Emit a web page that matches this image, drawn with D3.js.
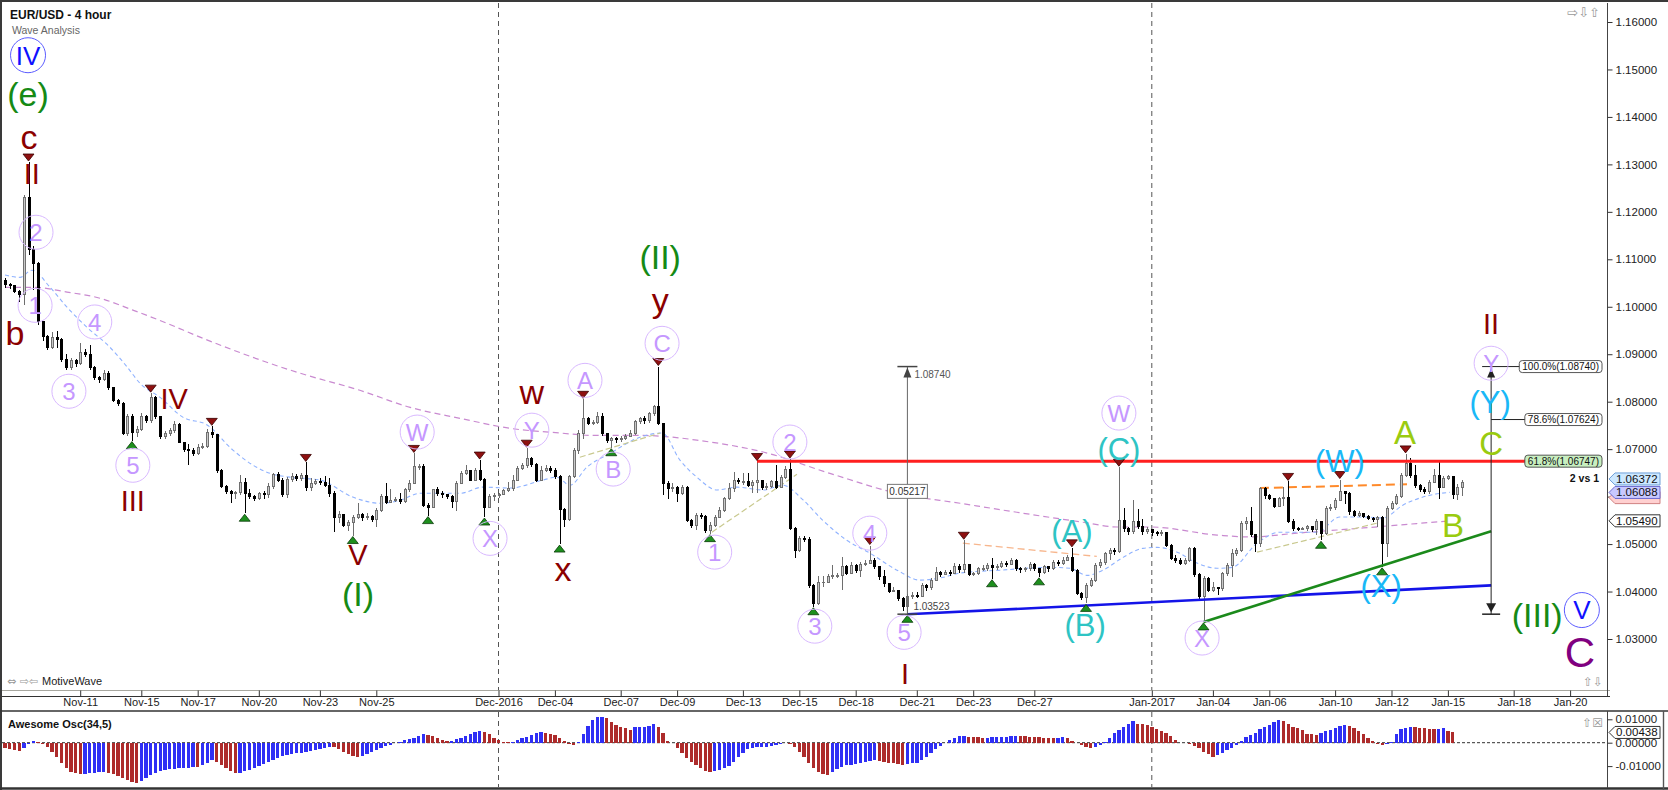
<!DOCTYPE html>
<html><head><meta charset="utf-8">
<script src="https://cdn.jsdelivr.net/npm/d3@7"></script>
<style>html,body{margin:0;padding:0;background:#fff;overflow:hidden}svg{display:block;font-family:"Liberation Sans",Arial,sans-serif}</style>
</head><body>
<svg id="chart" width="1668" height="790"></svg>
<script>
// ---------------- DATA (prices in pips above 1.0000) ----------------
const firstOpen = 1056;
const closes = [
1046,1044,1032,1025,1231,1120,1092,968,938,915,
936,930,888,873,886,880,904,900,873,850,
846,860,829,803,797,734,768,735,742,768,
760,808,768,726,732,740,752,715,700,698,
690,703,706,736,730,655,622,610,606,608,
630,606,600,596,606,604,622,646,634,604,
636,642,638,645,620,628,632,630,624,607,
557,562,540,545,556,562,555,558,552,571,
600,588,592,594,590,614,628,663,664,582,
578,614,606,604,600,590,628,649,656,635,
656,636,578,600,603,604,612,618,635,660,
665,681,667,635,656,660,654,642,572,552,
642,698,733,765,754,756,768,733,719,722,
720,722,727,733,758,765,760,775,789,754,
628,617,620,607,620,550,540,561,558,529,
540,557,571,596,617,634,632,632,624,630,
634,620,622,632,620,641,657,533,487,512,
510,413,375,420,420,431,434,434,452,438,
455,445,456,460,466,452,432,417,400,403,
386,369,389,392,390,413,408,424,441,436,
441,438,452,446,458,435,438,448,448,455,
450,452,460,458,466,448,446,448,457,448,
440,452,448,462,460,466,472,445,396,388,
413,424,455,462,480,487,484,550,533,527,
548,538,526,530,524,522,524,498,470,466,
460,465,490,435,389,428,403,408,406,438,
455,480,487,543,548,520,501,617,602,596,
580,596,598,548,533,532,533,536,530,547,
522,575,578,592,610,606,568,561,565,558,
554,552,556,501,575,585,600,645,670,645,
624,616,610,630,645,620,638,642,604,620,
630];
const highs = [
1060,1050,1046,1035,1236,1305,1128,1095,968,940,
946,949,935,900,892,890,924,910,920,876,
855,866,864,832,806,800,775,774,748,776,
772,818,812,770,738,745,760,756,716,710,
702,710,712,742,748,730,658,624,614,612,
645,640,615,604,610,612,628,650,652,640,
642,650,648,650,672,640,638,640,644,640,
612,570,562,550,562,586,566,565,562,576,
606,628,617,600,607,618,634,691,668,668,
586,616,620,612,606,604,632,654,666,656,
660,677,640,605,608,608,616,630,645,665,
670,702,684,670,664,666,664,660,646,575,
646,702,740,805,768,762,778,776,735,726,
726,728,732,740,762,768,770,778,792,874,
756,632,628,622,625,622,553,566,566,562,
546,562,578,600,628,652,640,649,650,636,
674,636,628,636,666,646,664,679,535,518,
516,515,416,432,432,436,456,440,473,456,
462,458,462,466,497,470,452,446,418,410,
404,388,394,400,398,418,416,428,452,444,
446,446,460,458,508,458,442,452,455,460,
470,458,464,464,470,468,452,452,462,460,
450,456,454,466,466,472,478,492,448,400,
418,428,460,468,484,492,492,662,575,536,
592,574,552,536,530,528,530,526,500,476,
470,470,494,494,440,432,430,420,410,442,
460,490,492,548,556,578,522,620,620,606,
598,600,620,632,552,536,537,540,538,552,
548,580,584,598,636,612,610,572,570,566,
562,558,560,560,580,590,606,650,690,682,
666,626,620,636,659,673,644,646,644,626,
636];
const lows = [
1040,1038,1028,1010,1003,1109,1035,962,928,908,
912,913,884,866,866,874,878,895,866,845,
840,844,825,800,790,730,728,718,725,738,
755,755,764,722,722,728,735,712,694,667,
685,688,700,702,724,650,618,606,586,596,
604,565,595,590,592,596,598,616,630,600,
598,630,632,632,612,612,624,624,620,600,
525,545,535,527,518,552,548,550,546,537,
568,584,586,588,585,586,610,626,656,578,
560,575,602,598,596,575,570,626,645,632,
633,632,557,575,590,598,604,610,612,632,
656,660,662,630,632,652,650,638,500,536,
548,640,690,722,750,750,752,728,714,703,
714,716,720,726,730,752,754,756,770,750,
603,596,610,589,604,546,533,529,552,524,
522,536,554,568,592,610,626,625,620,607,
608,614,614,618,615,618,638,530,470,484,
504,408,368,372,410,420,426,428,403,434,
436,440,430,454,458,448,424,410,396,398,
380,360,352,384,386,388,402,404,422,430,
434,432,436,440,440,432,432,434,444,444,
427,446,450,452,456,444,440,442,444,444,
431,438,442,446,454,456,464,442,392,382,
375,410,420,450,456,466,478,482,526,520,
522,532,520,522,518,518,518,494,466,460,
455,456,462,430,384,336,398,398,392,402,
432,430,474,484,530,514,484,494,594,592,
576,578,580,544,528,528,529,528,526,520,
508,520,570,572,590,584,562,556,558,554,
550,546,536,452,473,572,582,598,642,640,
618,610,606,606,628,596,618,636,596,592,
602];
// Awesome Oscillator (34,5), units of 0.0001
const aoValues = [
-24,-27,-30,-34,-22,-4,6,2,-6,-20,
-38,-62,-88,-110,-124,-130,-134,-132,-130,-128,
-126,-124,-128,-134,-142,-150,-158,-166,-174,-165,
-152,-140,-128,-122,-118,-114,-112,-110,-108,-106,
-103,-105,-96,-86,-76,-81,-95,-110,-122,-131,
-128,-122,-116,-108,-100,-92,-84,-74,-66,-56,
-53,-50,-46,-42,-38,-34,-30,-26,-22,-18,
-20,-28,-40,-50,-58,-63,-56,-48,-40,-32,
-24,-16,-8,-2,4,10,16,22,30,37,
34,28,20,12,6,9,14,20,28,36,
44,51,46,36,22,10,4,2,3,10,
18,26,34,40,44,42,38,32,22,8,
-4,-10,4,37,71,97,108,111,104,90,
75,68,61,54,65,66,67,71,80,65,
40,8,-3,-24,-46,-67,-81,-96,-110,-120,
-124,-122,-117,-110,-100,-81,-60,-43,-28,-23,
-20,-19,-17,-14,-9,-6,-3,-6,-20,-38,
-60,-88,-110,-124,-134,-138,-124,-114,-103,-97,
-94,-91,-88,-84,-80,-74,-77,-81,-86,-88,
-91,-94,-91,-88,-86,-74,-60,-43,-28,-14,
-3,11,21,27,28,26,25,23,18,21,
23,24,25,26,27,30,28,27,26,25,
23,21,20,18,21,23,18,8,-3,-10,
-20,-24,-20,-10,4,18,40,54,65,80,
92,82,78,74,65,60,50,40,28,11,
0,-3,-7,-14,-24,-38,-50,-63,-53,-43,
-31,-23,-9,8,26,33,43,57,68,75,
90,97,94,80,68,62,54,37,36,35,
43,48,54,62,71,74,71,61,50,36,
21,7,-6,-11,-6,4,36,58,62,68,
65,64,61,58,57,60,62,50,44];
// moving averages sampled [bar, pips]
const blueMA = [[0,1067],[3.2,1062],[5.7,1077],[9.6,1041],[13.2,999],[17.4,957],[22.3,915],[26,873],[28.7,839],[33,809],[37.9,767],[43,751],[48.5,698],[52.8,666],[56.4,649],[60.6,641],[67,635],[74,599],[79.8,586],[84,592],[88.3,607],[96.8,607],[101.7,620],[107.4,618],[114.5,635],[117.4,641],[120.2,624],[123.8,662],[128.7,691],[135.1,725],[139.8,734],[143.6,677],[147.2,641],[151.5,614],[155.7,620],[161.3,614],[165.5,624],[169.8,593],[174,550],[179.1,508],[184,481],[189.8,445],[194.7,424],[199.6,430],[203.2,439],[211.7,445],[222.3,451],[226.6,449],[230.2,434],[233.6,445],[237.9,472],[242.1,491],[245.1,493],[249.4,483],[253.6,460],[257.9,449],[261.1,451],[266.4,502],[271.3,525],[279.1,525],[284,557],[288.9,557],[293.2,555],[297.4,582],[303.2,603],[307.4,609]];
const pinkMA = [[0,1041],[6,1041],[13.2,1031],[20.2,1018],[27.2,993],[34.5,965],[41.5,936],[48.5,909],[55.7,883],[62.8,860],[75.5,824],[86.2,788],[96.8,765],[107.4,744],[118.1,734],[125.1,729],[135.1,729],[140,727],[147.2,719],[161.3,694],[175.5,649],[189.8,607],[203.2,586],[215.3,567],[229.4,546],[236.6,536],[243.6,536],[257.9,519],[264.9,515],[274.9,523],[289,534],[307.4,549]];
// time axis
const tickIdx = [16,29,41,54,67,79,105,117,131,143,157,169,181,194,206,219,244,257,269,283,295,307,321,333];
const tickLabels = ["Nov-11","Nov-15","Nov-17","Nov-20","Nov-23","Nov-25","Dec-2016","Dec-04","Dec-07","Dec-09","Dec-13","Dec-15","Dec-18","Dec-21","Dec-23","Dec-27","Jan-2017","Jan-04","Jan-06","Jan-10","Jan-12","Jan-15","Jan-18","Jan-20"];
const separatorIdx = [105, 244];
const priceTicks = [1.03,1.04,1.05,1.06,1.07,1.08,1.09,1.10,1.11,1.12,1.13,1.14,1.15,1.16];
const aoTicks = [-0.01, 0, 0.01];
// swing markers
const highMarks = [5,31,44,64,87,101,111,123,139,160,167,184,204,227,237,273,284,298];
const lowMarks = [27,51,74,90,102,118,129,150,172,192,210,220,230,255,280,293];
// wave labels [text, bar, pips]
const lavCircled = [["2",6.6,1157],["1",6.4,1003],["4",19.1,968],["3",13.6,822],["5",27.2,666],["W",87.7,736],["X",103.2,512],["Y",112.1,740],["A",123.4,845],["B",129.4,658],["C",139.8,923],["1",151,483],["2",167,715],["3",172.3,327],["4",184,523],["5",191.3,314],["W",237,776],["X",254.7,302],["Y",316.2,881]];
const blueCircled = [["IV",4.9,1530],["V",335.5,361]];
const maroonLbl = [["c",5.1,1351],["II",5.7,1281],["b",2.1,946],["III",27.2,592],["IV",36,807],["V",75.1,477],["w",112.1,814],["x",118.7,441],["y",139.4,997],["I",191.5,228],["II",316.2,965]];
const greenLbl = [["(e)",4.9,1442],["(I)",75.1,388],["(II)",139.4,1098],["(III)",326,344]];
const tealLbl = [["(A)",227,521],["(B)",229.8,325],["(C)",237,694]];
const skyLbl = [["(W)",284,670],["(X)",292.8,407],["(Y)",316,793]];
const limeLbl = [["A",297.9,736],["B",308.1,540],["C",316.2,713]];
const purpleLbl = [["C",335.1,272]];
// drawn lines [bar1, pips1, bar2, pips2]
const khakiLines = [[122.3,683,139.4,734],[150.4,525,168.5,647],[266.4,483,291.9,544]];
const orangeLightLines = [[203.8,502,232.3,474]];
const orangeLines = [[267,618,298.3,626]];
const blueTrend = [192,352,316.2,413];
const greenTrend = [255,336,316.2,527];
// fibonacci / measure tools
const fibBar = 316.2;
const fibLevels = [["100.0%",1.08740],["78.6%",1.07624],["61.8%",1.06747]];
const fibBottom = 1.03523;
const redLevelStart = 160;
const measureBar = 192;
const measureTop = 1.08740, measureBottom = 1.03523;
const priceTags = [[1.05979,""],[1.06088,"1.06088"],[1.06372,"1.06372"],[1.05490,"1.05490"]];
const aoTag = 0.00438;

// ---------------- SCALES ----------------
const svg = d3.select("#chart");
const x = d3.scaleLinear().domain([0, 341]).range([5, 5 + 341 * 4.7]);
const y = d3.scaleLinear().domain([1.03, 1.16]).range([639, 22]);
const yAO = d3.scaleLinear().domain([-0.01, 0.01]).range([766.1, 719.3]);
const P = v => 1 + v / 10000;
const fmt5 = d3.formatLocale({decimal: ".", thousands: ",", grouping: [3], currency: ["", ""], minus: "-"}).format(".5f");
const AXX = 1607;

svg.append("rect").attr("width", 1668).attr("height", 790).attr("fill", "#fff");
const defs = svg.append("defs");
defs.append("clipPath").attr("id", "mc").append("rect").attr("x", 2).attr("y", 3).attr("width", AXX - 2).attr("height", 687);
defs.append("clipPath").attr("id", "ac").append("rect").attr("x", 2).attr("y", 712).attr("width", AXX - 2).attr("height", 75);

// separators
separatorIdx.forEach(i => {
  [[3, 690], [712, 787]].forEach(([a, b]) => svg.append("line").attr("x1", x(i)).attr("x2", x(i)).attr("y1", a).attr("y2", b)
    .attr("stroke", "#555").attr("stroke-dasharray", "5,4").attr("stroke-width", 1));
});

const main = svg.append("g").attr("clip-path", "url(#mc)");

// moving averages
const maLine = d3.line().x(d => x(d[0])).y(d => y(P(d[1]))).curve(d3.curveMonotoneX);
main.append("path").attr("d", maLine(pinkMA)).attr("fill", "none").attr("stroke", "#c98ad0").attr("stroke-width", 1.2).attr("stroke-dasharray", "6,4");
main.append("path").attr("d", maLine(blueMA)).attr("fill", "none").attr("stroke", "#8fb2ff").attr("stroke-width", 1.1).attr("stroke-dasharray", "4,3");

// dashed helper lines
const seg = (g, arr, color, w, dash) => arr.forEach(s => g.append("line").attr("x1", x(s[0])).attr("y1", y(P(s[1]))).attr("x2", x(s[2])).attr("y2", y(P(s[3])))
  .attr("stroke", color).attr("stroke-width", w).attr("stroke-dasharray", dash));
seg(main, khakiLines, "#c9c98f", 1.2, "6,3");
seg(main, orangeLightLines, "#f7b68d", 1.3, "7,4");
seg(main, orangeLines, "#ff8a2a", 2, "9,5");

// candles
const bars = closes.map((c, i) => ({i, o: i === 0 ? firstOpen : closes[i - 1], c, h: highs[i], l: lows[i]}));
const cg = main.append("g").attr("shape-rendering", "crispEdges");
cg.selectAll("line").data(bars).join("line")
  .attr("x1", d => Math.round(x(d.i)) + 0.5).attr("x2", d => Math.round(x(d.i)) + 0.5)
  .attr("y1", d => y(P(d.h))).attr("y2", d => y(P(d.l)))
  .attr("stroke", d => d.c >= d.o ? "#6e6e6e" : "#000");
cg.selectAll("rect").data(bars).join("rect")
  .attr("x", d => Math.round(x(d.i)) - 0.5).attr("width", 2)
  .attr("y", d => y(P(Math.max(d.o, d.c))))
  .attr("height", d => Math.max(0.8, y(P(Math.min(d.o, d.c))) - y(P(Math.max(d.o, d.c)))))
  .attr("fill", d => d.c >= d.o ? "#c9c9c9" : "#000")
  .attr("stroke", d => d.c >= d.o ? "#707070" : "#000").attr("stroke-width", 1);

// trend lines & fib level
main.append("line").attr("x1", x(blueTrend[0])).attr("y1", y(P(blueTrend[1]))).attr("x2", x(blueTrend[2])).attr("y2", y(P(blueTrend[3]))).attr("stroke", "#1414e8").attr("stroke-width", 2.6);
main.append("line").attr("x1", x(greenTrend[0])).attr("y1", y(P(greenTrend[1]))).attr("x2", x(greenTrend[2])).attr("y2", y(P(greenTrend[3]))).attr("stroke", "#1b8a1b").attr("stroke-width", 2.6);

const fx = x(fibBar);
const labelRight = AXX - 5;
main.append("line").attr("x1", x(redLevelStart)).attr("x2", labelRight - 74).attr("y1", y(fibLevels[2][1])).attr("y2", y(fibLevels[2][1])).attr("stroke", "#ff1f1f").attr("stroke-width", 3);

// fib projection tool
const ft = svg.append("g");
ft.append("line").attr("x1", fx).attr("x2", fx).attr("y1", y(fibLevels[0][1]) + 2).attr("y2", y(fibBottom)).attr("stroke", "#222").attr("stroke-width", 1);
ft.append("line").attr("x1", fx - 9).attr("x2", labelRight - 79).attr("y1", y(fibLevels[0][1])).attr("y2", y(fibLevels[0][1])).attr("stroke", "#222");
ft.append("line").attr("x1", fx).attr("x2", labelRight - 74).attr("y1", y(fibLevels[1][1])).attr("y2", y(fibLevels[1][1])).attr("stroke", "#222");
ft.append("path").attr("d", `M${fx - 4},${y(fibLevels[0][1]) + 11}L${fx + 4},${y(fibLevels[0][1]) + 11}L${fx},${y(fibLevels[0][1]) + 2}Z`).attr("fill", "#222");
ft.append("path").attr("d", `M${fx - 5},${y(fibBottom) - 11}L${fx + 5},${y(fibBottom) - 11}L${fx},${y(fibBottom) - 2}Z`).attr("fill", "#222");
ft.append("line").attr("x1", fx - 9).attr("x2", fx + 9).attr("y1", y(fibBottom)).attr("y2", y(fibBottom)).attr("stroke", "#222").attr("stroke-width", 1.5);
fibLevels.forEach(([pct, val], k) => {
  const cy = y(val);
  const t = ft.append("text").attr("x", labelRight - 3).attr("y", cy + 3.5).attr("text-anchor", "end").attr("font-size", 10).attr("fill", "#111").text(`${pct}(${val.toFixed(5)})`);
  const w = t.node().getComputedTextLength();
  ft.insert("rect", "text").attr("x", labelRight - w - 6).attr("y", cy - 6).attr("width", w + 6).attr("height", 12).attr("rx", 3)
    .attr("fill", k === 2 ? "#c8efc0" : "#fff").attr("stroke", "#444").attr("stroke-width", 0.9);
});
ft.append("text").attr("x", labelRight - 3).attr("y", y(fibLevels[2][1]) + 21).attr("text-anchor", "end").attr("font-size", 10.5).attr("font-weight", "bold").attr("fill", "#111").text("2 vs 1");

// measure tool
const mx = x(measureBar);
const mt = svg.append("g");
mt.append("line").attr("x1", mx).attr("x2", mx).attr("y1", y(measureTop)).attr("y2", y(measureBottom)).attr("stroke", "#666");
mt.append("line").attr("x1", mx - 10).attr("x2", mx + 10).attr("y1", y(measureTop)).attr("y2", y(measureTop)).attr("stroke", "#444").attr("stroke-width", 1.5);
mt.append("line").attr("x1", mx - 10).attr("x2", mx + 10).attr("y1", y(measureBottom)).attr("y2", y(measureBottom)).attr("stroke", "#444").attr("stroke-width", 1.5);
mt.append("path").attr("d", `M${mx - 4},${y(measureTop) + 11}L${mx + 4},${y(measureTop) + 11}L${mx},${y(measureTop) + 1}Z`).attr("fill", "#444");
mt.append("text").attr("x", mx + 7).attr("y", y(measureTop) + 11).attr("font-size", 10).attr("fill", "#555").text(fmt5(measureTop));
mt.append("text").attr("x", mx + 6).attr("y", y(measureBottom) - 4).attr("font-size", 10).attr("fill", "#444").text(fmt5(measureBottom));
const midY = (y(measureTop) + y(measureBottom)) / 2 + 1;
mt.append("rect").attr("x", mx - 20).attr("y", midY - 7).attr("width", 40).attr("height", 14).attr("fill", "#fff").attr("stroke", "#777");
mt.append("text").attr("x", mx).attr("y", midY + 3.5).attr("text-anchor", "middle").attr("font-size", 10).attr("fill", "#333").text(fmt5(measureTop - measureBottom));

// swing markers
const mk = main.append("g");
highMarks.forEach(i => {
  const cx = x(i), t = y(P(highs[i]));
  mk.append("path").attr("d", `M${cx - 5.5},${t - 8}L${cx + 5.5},${t - 8}L${cx},${t - 1}Z`).attr("fill", "#8e1010").attr("stroke", "#3a0000").attr("stroke-width", 0.8);
});
lowMarks.forEach(i => {
  const cx = x(i), b = y(P(lows[i]));
  mk.append("path").attr("d", `M${cx - 5.5},${b + 8}L${cx + 5.5},${b + 8}L${cx},${b + 1}Z`).attr("fill", "#1d8f1d").attr("stroke", "#0b3b0b").attr("stroke-width", 0.8);
});

// wave labels
function dyFor(t) {
  if (t[0] === "(") return "0.27em";
  if (t === "y") return "0.12em";
  if (/^[cwx]$/.test(t)) return "0.25em";
  return "0.36em";
}
function drawLabels(arr, color, size, circle, r) {
  const g = svg.append("g").attr("clip-path", "url(#mc)");
  arr.forEach(([t, i, v]) => {
    const cx = x(i), cy = y(P(v));
    if (circle) g.append("circle").attr("cx", cx).attr("cy", cy).attr("r", r).attr("fill", "none").attr("stroke", circle).attr("stroke-width", 1);
    g.append("text").attr("x", cx).attr("y", cy).attr("dy", dyFor(t)).attr("text-anchor", "middle")
      .attr("font-size", typeof size === "function" ? size(t) : size).attr("fill", color).text(t);
  });
}
drawLabels(lavCircled, "#c597ff", 24, "#d9b9ff", 17);
drawLabels(blueCircled, "#1010ff", 26, "#5c5cff", 17.5);
drawLabels(maroonLbl, "#8b0000", t => /^[a-z]$/.test(t) ? 34 : 29);
drawLabels(greenLbl, "#158a15", 34);
drawLabels(tealLbl, "#2ec4c4", 31);
drawLabels(skyLbl, "#19b8f7", 31);
drawLabels(limeLbl, "#9acb10", 33);
drawLabels(purpleLbl, "#800080", 42);

// ---------------- FRAMES & AXES ----------------
svg.append("line").attr("x1", 0).attr("x2", 1668).attr("y1", 1).attr("y2", 1).attr("stroke", "#3a3a3a").attr("stroke-width", 2);
svg.append("line").attr("x1", 1).attr("x2", 1).attr("y1", 0).attr("y2", 790).attr("stroke", "#3a3a3a").attr("stroke-width", 2);
svg.append("line").attr("x1", 2).attr("x2", AXX + 3).attr("y1", 690.5).attr("y2", 690.5).attr("stroke", "#a8a8a0");
svg.append("line").attr("x1", 2).attr("x2", AXX + 3).attr("y1", 696.5).attr("y2", 696.5).attr("stroke", "#333");
svg.append("line").attr("x1", 0).attr("x2", 1668).attr("y1", 711).attr("y2", 711).attr("stroke", "#333").attr("stroke-width", 1.6);
svg.append("line").attr("x1", 0).attr("x2", 1668).attr("y1", 788.5).attr("y2", 788.5).attr("stroke", "#333").attr("stroke-width", 2.5);
svg.append("line").attr("x1", 1663.5).attr("x2", 1663.5).attr("y1", 711).attr("y2", 790).attr("stroke", "#555").attr("stroke-width", 1.4);
svg.append("line").attr("x1", AXX + 0.5).attr("x2", AXX + 0.5).attr("y1", 3).attr("y2", 696).attr("stroke", "#444");
svg.append("line").attr("x1", AXX + 0.5).attr("x2", AXX + 0.5).attr("y1", 711).attr("y2", 788).attr("stroke", "#444");

// price axis
const minorVals = d3.range(1020, 1165).map(k => k / 1000).filter(v => y(v) > 6 && y(v) < 688);
const pa = svg.append("g").attr("transform", `translate(${AXX + 0.5},0)`);
pa.call(d3.axisRight(y).tickValues(minorVals).tickSize(3).tickFormat(""));
pa.call(d3.axisRight(y).tickValues(priceTicks).tickSize(5).tickPadding(3).tickFormat(fmt5));
pa.selectAll(".domain").remove();
pa.selectAll("line").attr("stroke", "#333");
pa.selectAll("text").attr("font-size", 11.5).attr("fill", "#222").attr("font-family", "Liberation Sans, Arial, sans-serif");

// time axis
const ta = svg.append("g").attr("transform", "translate(0,690.5)");
ta.call(d3.axisBottom(x).tickValues(tickIdx).tickSize(6).tickFormat((d, k) => tickLabels[k]));
ta.selectAll(".domain").remove();
ta.selectAll("line").attr("stroke", "#333");
ta.selectAll("text").attr("y", 7.5).attr("font-size", 11).attr("fill", "#222").attr("font-family", "Liberation Sans, Arial, sans-serif");

// AO panel
const ao = svg.append("g").attr("clip-path", "url(#ac)");
ao.append("line").attr("x1", 2).attr("x2", AXX).attr("y1", yAO(0)).attr("y2", yAO(0)).attr("stroke", "#333").attr("stroke-dasharray", "3,2");
ao.append("g").attr("shape-rendering", "crispEdges").selectAll("rect").data(aoValues).join("rect")
  .attr("x", (d, i) => x(i) - 1.6).attr("width", 3.3)
  .attr("y", d => Math.min(yAO(0), yAO(d / 10000)))
  .attr("height", d => Math.max(0.6, Math.abs(yAO(d / 10000) - yAO(0))))
  .attr("fill", (d, i) => (i > 0 && d > aoValues[i - 1]) ? "#2f2ff5" : "#ad2b2b");
const aa = svg.append("g").attr("transform", `translate(${AXX + 0.5},0)`);
aa.call(d3.axisRight(yAO).tickValues([-0.015, -0.005, 0.005]).tickSize(3).tickFormat(""));
aa.call(d3.axisRight(yAO).tickValues(aoTicks).tickSize(5).tickPadding(3).tickFormat(fmt5));
aa.selectAll(".domain").remove();
aa.selectAll("line").attr("stroke", "#333");
aa.selectAll("text").attr("font-size", 11.5).attr("fill", "#222").attr("font-family", "Liberation Sans, Arial, sans-serif");
svg.append("text").attr("x", 8).attr("y", 728).attr("font-size", 11).attr("font-weight", "bold").attr("fill", "#111").text("Awesome Osc(34,5)");

// price tags
function tag(cy, text, fill, stroke) {
  const g = svg.append("g");
  g.append("path").attr("d", `M${AXX + 2},${cy}L${AXX + 8},${cy - 6}H1660V${cy + 6}H${AXX + 8}Z`).attr("fill", fill).attr("stroke", stroke).attr("stroke-width", 1);
  if (text) g.append("text").attr("x", AXX + 9).attr("y", cy + 4).attr("font-size", 11.5).attr("fill", "#111").text(text);
}
const tagStyles = [["#ffd0d0", "#d08080"], ["#c8c8ff", "#6a6ad0"], ["#cde8ff", "#6fa0d8"], ["#ffffff", "#333"]];
priceTags.forEach(([v, t], k) => tag(y(v), t, tagStyles[k][0], tagStyles[k][1]));
tag(yAO(aoTag), fmt5(aoTag), "#fff", "#333");

// titles and decorations
svg.append("text").attr("x", 10).attr("y", 19).attr("font-size", 12).attr("font-weight", "bold").attr("fill", "#111").text("EUR/USD - 4 hour");
svg.append("text").attr("x", 12).attr("y", 34).attr("font-size", 10.5).attr("fill", "#666").text("Wave Analysis");
svg.append("text").attr("x", 1600).attr("y", 17).attr("text-anchor", "end").attr("font-size", 13).attr("fill", "#999").attr("font-family", "DejaVu Sans").text("⇨⇩⇧");
svg.append("text").attr("x", 7).attr("y", 685).attr("font-size", 11).attr("fill", "#999").attr("font-family", "DejaVu Sans").text("⇔ ⇨⇦");
svg.append("text").attr("x", 42).attr("y", 685).attr("font-size", 11).attr("fill", "#222").text("MotiveWave");
svg.append("text").attr("x", 1603).attr("y", 686).attr("text-anchor", "end").attr("font-size", 12).attr("fill", "#999").attr("font-family", "DejaVu Sans").text("⇧⇩");
svg.append("text").attr("x", 1603).attr("y", 727).attr("text-anchor", "end").attr("font-size", 12).attr("fill", "#999").attr("font-family", "DejaVu Sans").text("⇧☒");
</script>
</body></html>
